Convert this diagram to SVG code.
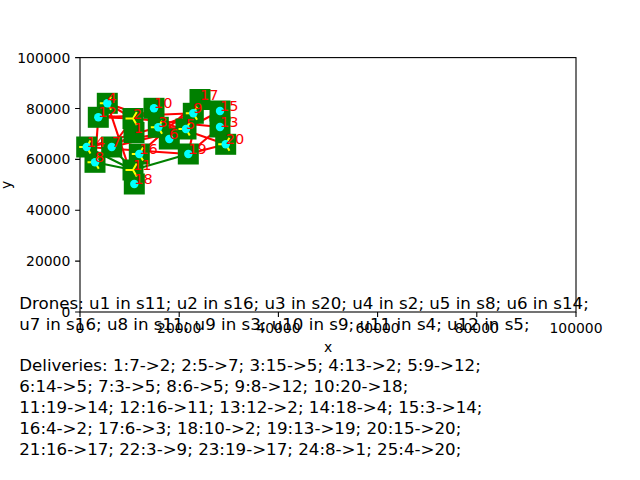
<svg xmlns="http://www.w3.org/2000/svg" width="640" height="480" viewBox="0 0 640 480">
<defs>
<style>
text{font-family:"DejaVu Sans","Liberation Sans",sans-serif;}
.tick{font-size:13.9px;fill:#000;}
.lbl{font-size:14.5px;fill:#ff0000;}
.info{font-size:16.67px;fill:#000;}
.red{stroke:#ff0000;stroke-width:2.08;fill:none;}
.grn{stroke:#008000;stroke-width:2.08;fill:none;}
.sq{fill:#008000;}
.dot{fill:#00ffff;}
.tri{stroke:#ffff00;stroke-width:2;fill:none;}
</style>
<rect id="sqm" class="sq" x="-10.5" y="-10.5" width="21" height="21"/>
<path id="trim" class="tri" d="M0 0H-7.5M0 0L3.75 -6.5M0 0L3.75 6.5"/>
</defs>
<rect width="640" height="480" fill="#fff"/>
<g id="axes">
<rect x="80" y="57.6" width="496" height="254.4" fill="none" stroke="#000" stroke-width="1.1"/>
<g stroke="#000" stroke-width="1.1">
<path d="M80 312v4.9M179.2 312v4.9M278.4 312v4.9M377.6 312v4.9M476.8 312v4.9M576 312v4.9"/>
<path d="M80 312h-4.9M80 261.1h-4.9M80 210.2h-4.9M80 159.4h-4.9M80 108.5h-4.9M80 57.6h-4.9"/>
</g>
<g class="tick" text-anchor="middle">
<text x="80" y="332.5">0</text>
<text x="179.2" y="332.5">20000</text>
<text x="278.4" y="332.5">40000</text>
<text x="377.6" y="332.5">60000</text>
<text x="476.8" y="332.5">80000</text>
<text x="576" y="332.5">100000</text>
</g>
<g class="tick" text-anchor="end">
<text x="70.3" y="317">0</text>
<text x="70.3" y="266.1">20000</text>
<text x="70.3" y="215.2">40000</text>
<text x="70.3" y="164.4">60000</text>
<text x="70.3" y="113.5">80000</text>
<text x="70.3" y="62.6">100000</text>
</g>
<text class="tick" x="328" y="352" text-anchor="middle">x</text>
<text class="tick" x="0" y="0" text-anchor="middle" transform="translate(11 184.8) rotate(-90)">y</text>
</g>
<g id="connectors">
<g class="red">
<line x1="111.7" y1="147" x2="133" y2="118.5"/>
<line x1="186" y1="129" x2="111.7" y2="147"/>
<line x1="220" y1="111" x2="186" y2="129"/>
<line x1="220" y1="127" x2="133" y2="118.5"/>
<line x1="193.3" y1="113.3" x2="98.3" y2="117.3"/>
<line x1="86.7" y1="147" x2="186" y2="129"/>
<line x1="158.3" y1="127.3" x2="186" y2="129"/>
<line x1="169.3" y1="139" x2="186" y2="129"/>
<line x1="95" y1="162.3" x2="98.3" y2="117.3"/>
<line x1="188.3" y1="154" x2="86.7" y2="147"/>
<line x1="139.3" y1="154" x2="133" y2="170"/>
<line x1="98.3" y1="117.3" x2="133" y2="118.5"/>
<line x1="134.3" y1="184" x2="107.3" y2="103.3"/>
<line x1="158.3" y1="127.3" x2="86.7" y2="147"/>
<line x1="107.3" y1="103.3" x2="133" y2="118.5"/>
<line x1="169.3" y1="139" x2="158.3" y2="127.3"/>
<line x1="154" y1="108.3" x2="133" y2="118.5"/>
<line x1="220" y1="127" x2="188.3" y2="154"/>
<line x1="220" y1="111" x2="225.7" y2="144.3"/>
<line x1="139.3" y1="154" x2="200" y2="99.5"/>
<line x1="158.3" y1="127.3" x2="193.3" y2="113.3"/>
<line x1="188.3" y1="154" x2="200" y2="99.5"/>
<line x1="95" y1="162.3" x2="134" y2="132.5"/>
<line x1="107.3" y1="103.3" x2="225.7" y2="144.3"/>
<line x1="188.3" y1="154" x2="225.7" y2="144.3"/>
</g>
<g class="grn">
<line x1="86.7" y1="147" x2="133" y2="170"/>
<line x1="95" y1="162.3" x2="133" y2="170"/>
<line x1="111.7" y1="147" x2="133" y2="170"/>
<line x1="133" y1="170" x2="188.3" y2="154"/>
</g>
</g>
<g id="n1"><use href="#sqm" x="134" y="132.5"/></g>
<g id="n2"><use href="#sqm" x="133" y="118.5"/></g>
<g id="n3"><use href="#sqm" x="158.3" y="127.3"/></g>
<g id="n4"><use href="#sqm" x="107.3" y="103.3"/></g>
<g id="n5"><use href="#sqm" x="186" y="129"/></g>
<g id="n6"><use href="#sqm" x="169.3" y="139"/></g>
<g id="n7"><use href="#sqm" x="111.7" y="147"/></g>
<g id="n8"><use href="#sqm" x="95" y="162.3"/></g>
<g id="n9"><use href="#sqm" x="193.3" y="113.3"/></g>
<g id="n10"><use href="#sqm" x="154" y="108.3"/></g>
<g id="n11"><use href="#sqm" x="133" y="170"/></g>
<g id="n12"><use href="#sqm" x="98.3" y="117.3"/></g>
<g id="n13"><use href="#sqm" x="220" y="127"/></g>
<g id="n14"><use href="#sqm" x="86.7" y="147"/></g>
<g id="n15"><use href="#sqm" x="220" y="111"/></g>
<g id="n16"><use href="#sqm" x="139.3" y="154"/></g>
<g id="n17"><use href="#sqm" x="200" y="99.5"/></g>
<g id="n18"><use href="#sqm" x="134.3" y="184"/></g>
<g id="n19"><use href="#sqm" x="188.3" y="154"/></g>
<g id="n20"><use href="#sqm" x="225.7" y="144.3"/></g>
<g id="drones">
<use href="#trim" x="133" y="170"/>
<use href="#trim" x="139.3" y="154"/>
<use href="#trim" x="225.7" y="144.3"/>
<use href="#trim" x="133" y="118.5"/>
<use href="#trim" x="95" y="162.3"/>
<use href="#trim" x="86.7" y="147"/>
<use href="#trim" x="158.3" y="127.3"/>
<use href="#trim" x="193.3" y="113.3"/>
<use href="#trim" x="107.3" y="103.3"/>
<use href="#trim" x="186" y="129"/>
</g>
<g id="pickups">
<circle class="dot" cx="158.3" cy="127.3" r="4.2"/>
<circle class="dot" cx="107.3" cy="103.3" r="4.2"/>
<circle class="dot" cx="186" cy="129" r="4.2"/>
<circle class="dot" cx="169.3" cy="139" r="4.2"/>
<circle class="dot" cx="111.7" cy="147" r="4.2"/>
<circle class="dot" cx="95" cy="162.3" r="4.2"/>
<circle class="dot" cx="193.3" cy="113.3" r="4.2"/>
<circle class="dot" cx="154" cy="108.3" r="4.2"/>
<circle class="dot" cx="98.3" cy="117.3" r="4.2"/>
<circle class="dot" cx="220" cy="127" r="4.2"/>
<circle class="dot" cx="86.7" cy="147" r="4.2"/>
<circle class="dot" cx="220" cy="111" r="4.2"/>
<circle class="dot" cx="139.3" cy="154" r="4.2"/>
<circle class="dot" cx="134.3" cy="184" r="4.2"/>
<circle class="dot" cx="188.3" cy="154" r="4.2"/>
<circle class="dot" cx="225.7" cy="144.3" r="4.2"/>
</g>
<g id="labels" class="lbl">
<text x="134" y="132.5">1</text>
<text x="133" y="118.5">2</text>
<text x="158.3" y="127.3">3</text>
<text x="107.3" y="103.3">4</text>
<text x="186" y="129">5</text>
<text x="169.3" y="139">6</text>
<text x="111.7" y="147">7</text>
<text x="95" y="162.3">8</text>
<text x="193.3" y="113.3">9</text>
<text x="154" y="108.3">10</text>
<text x="133" y="170">11</text>
<text x="98.3" y="117.3">12</text>
<text x="220" y="127">13</text>
<text x="86.7" y="147">14</text>
<text x="220" y="111">15</text>
<text x="139.3" y="154">16</text>
<text x="200" y="99.5">17</text>
<text x="134.3" y="184">18</text>
<text x="188.3" y="154">19</text>
<text x="225.7" y="144.3">20</text>
</g>
<g id="info" class="info">
<text x="19.2" y="309">Drones: u1 in s11; u2 in s16; u3 in s20; u4 in s2; u5 in s8; u6 in s14;</text>
<text x="19.2" y="329.8">u7 in s16; u8 in s11; u9 in s3; u10 in s9; u11 in s4; u12 in s5;</text>
<text x="19.2" y="371.4">Deliveries: 1:7-&gt;2; 2:5-&gt;7; 3:15-&gt;5; 4:13-&gt;2; 5:9-&gt;12;</text>
<text x="19.2" y="392.2">6:14-&gt;5; 7:3-&gt;5; 8:6-&gt;5; 9:8-&gt;12; 10:20-&gt;18;</text>
<text x="19.2" y="413">11:19-&gt;14; 12:16-&gt;11; 13:12-&gt;2; 14:18-&gt;4; 15:3-&gt;14;</text>
<text x="19.2" y="433.8">16:4-&gt;2; 17:6-&gt;3; 18:10-&gt;2; 19:13-&gt;19; 20:15-&gt;20;</text>
<text x="19.2" y="454.6">21:16-&gt;17; 22:3-&gt;9; 23:19-&gt;17; 24:8-&gt;1; 25:4-&gt;20;</text>
</g>
</svg>
